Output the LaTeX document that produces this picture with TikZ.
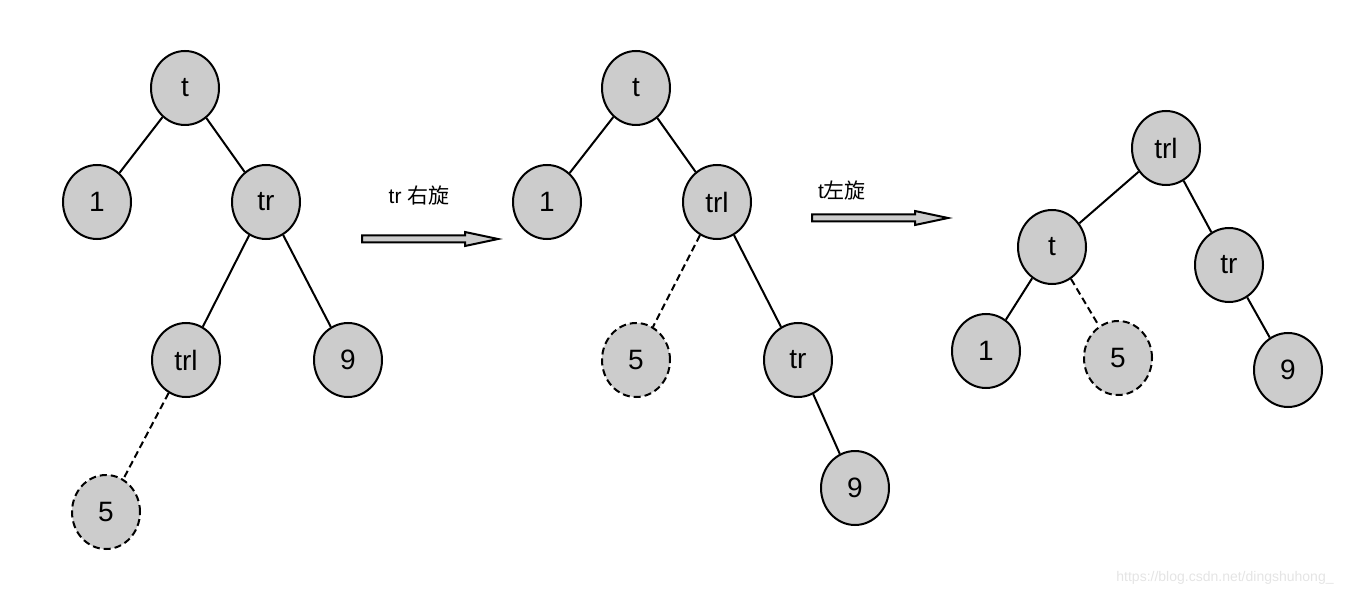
\documentclass[tikz,border=0pt]{standalone}
\usepackage{fontspec}
\setmainfont{Liberation Sans}
\newfontfamily\cjk{Noto Sans CJK SC}
\usetikzlibrary{shapes.geometric}
\definecolor{nodegray}{HTML}{CCCCCC}
\definecolor{wm}{HTML}{E4E4E4}
\tikzset{
  tn/.style={ellipse, draw=black, line width=2pt, fill=nodegray, minimum width=68pt, minimum height=74pt, inner sep=0pt, font=\fontsize{28}{28}\selectfont},
  tnd/.style={tn, dash pattern=on 7pt off 4pt},
  edge/.style={line width=2pt},
  dedge/.style={line width=2pt, dash pattern=on 7pt off 4pt},
  fat/.style={draw=black, line width=2pt, fill=nodegray},
  lbl/.style={font=\fontsize{21}{21}\selectfont, inner sep=0pt}
}
\begin{document}
\begin{tikzpicture}[x=1pt,y=-1pt]
\useasboundingbox (0,0) rectangle (1358,596);
% tree 1
\node[tn] (a1) at (185,88) {t};
\node[tn] (a2) at (97,202) {1};
\node[tn] (a3) at (266,202) {tr};
\node[tn] (a4) at (186,360) {trl};
\node[tn] (a5) at (348,360) {9};
\node[tnd] (a6) at (106,512) {5};
\draw[edge] (a1) -- (a2);
\draw[edge] (a1) -- (a3);
\draw[edge] (a3) -- (a4);
\draw[edge] (a3) -- (a5);
\draw[dedge] (a4) -- (a6);
% arrow 1
\node[lbl] (l1) at (419,196) {tr {\cjk 右旋}};
\draw[fat] (362,235.5) -- (465,235.5) -- (465,232) -- (498,239) -- (465,246) -- (465,242.5) -- (362,242.5) -- cycle;
% tree 2
\node[tn] (b1) at (636,88) {t};
\node[tn] (b2) at (547,202) {1};
\node[tn] (b3) at (717,202) {trl};
\node[tnd] (b4) at (636,360) {5};
\node[tn] (b5) at (798,360) {tr};
\node[tn] (b6) at (855,488) {9};
\draw[edge] (b1) -- (b2);
\draw[edge] (b1) -- (b3);
\draw[dedge] (b3) -- (b4);
\draw[edge] (b3) -- (b5);
\draw[edge] (b5) -- (b6);
% arrow 2
\node[lbl] (l2) at (842,191) {t{\cjk 左旋}};
\draw[fat] (812,214.5) -- (915,214.5) -- (915,211) -- (948,218) -- (915,225) -- (915,221.5) -- (812,221.5) -- cycle;
% tree 3
\node[tn] (c1) at (1166,148) {trl};
\node[tn] (c2) at (1052,247) {t};
\node[tn] (c3) at (1229,265) {tr};
\node[tn] (c4) at (986,351) {1};
\node[tnd] (c5) at (1118,358) {5};
\node[tn] (c6) at (1288,370) {9};
\draw[edge] (c1) -- (c2);
\draw[edge] (c1) -- (c3);
\draw[edge] (c2) -- (c4);
\draw[dedge] (c2) -- (c5);
\draw[edge] (c3) -- (c6);
% watermark
\node[font=\fontsize{14}{14}\selectfont, text=wm, inner sep=0pt] (wmk) at (1225,578) {https://blog.csdn.net/dingshuhong\_};
\end{tikzpicture}
\end{document}
